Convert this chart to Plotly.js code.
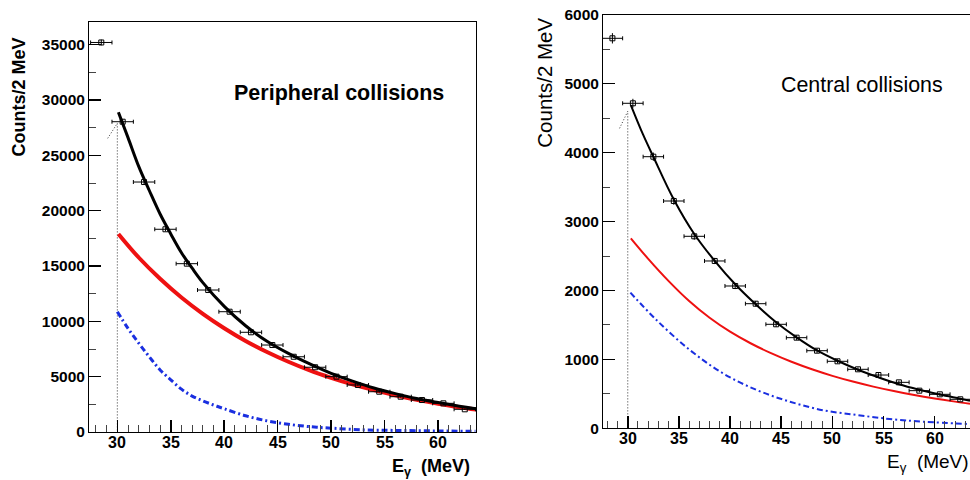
<!DOCTYPE html>
<html>
<head>
<meta charset="utf-8">
<script src="https://cdn.plot.ly/plotly-3.0.1.min.js"></script>
<style>
  html, body { margin: 0; padding: 0; background: #fff; }
  #chart { width: 970px; height: 480px; }
</style>
</head>
<body>
<div id="chart"></div>
<script>
// Photon energy bins (bin centres, MeV) and half bin width
const energy = [28.5, 30.5, 32.5, 34.5, 36.5, 38.5, 40.5, 42.5, 44.5, 46.5, 48.5, 50.5, 52.5, 54.5, 56.5, 58.5, 60.5, 62.5];
const binHalfWidth = [1, 1, 1, 1, 1, 1, 1, 1, 1, 1, 1, 1, 1, 1, 1, 1, 1, 1];
const energyTicks = [30, 35, 40, 45, 50, 55, 60];

// Peripheral collisions: measured spectrum
const periphCounts = [35200, 28040, 22590, 18320, 15210, 12830, 10870, 9010, 7860, 6800, 5850, 5000, 4250, 3640, 3190, 2890, 2590, 2050];
const periphErr = [260, 230, 200, 180, 160, 140, 130, 120, 110, 100, 95, 90, 85, 80, 75, 70, 65, 60];

// Peripheral collisions: total fit, first and second components
const periphFitE = [30.1, 31, 32, 33, 34, 35, 36, 37, 38, 40, 42, 44, 46, 48, 50, 52, 54, 56, 58, 60, 62, 63.55];
const periphFit = [28900, 26600, 24000, 21800, 19700, 17900, 16200, 14800, 13500, 11350, 9600, 8200, 7100, 6150, 5300, 4600, 3980, 3470, 3020, 2660, 2330, 2100];
const periphRedE = [30.1, 32, 34, 36, 38, 40, 42, 44, 46, 48, 50, 52, 54, 56, 58, 60, 62, 63.55];
const periphRed = [17900, 15770, 13850, 12160, 10680, 9380, 8230, 7230, 6350, 5570, 4900, 4300, 3780, 3320, 2910, 2560, 2240, 2030];
const periphBlueE = [30, 31, 32, 33, 34, 35, 36, 37, 38, 39, 40, 42, 44, 46, 48, 50, 53, 56, 60, 63.5];
const periphBlue = [10870, 9360, 8030, 6785, 5610, 4710, 3870, 3245, 2815, 2440, 2100, 1465, 1007, 697, 482, 347, 194, 143, 93, 60];
// Extrapolation of the fit below threshold
const periphDotE = [29.1, 29.55, 30.0, 30.0];
const periphDot = [26540, 27250, 27900, 0];

// Central collisions: measured spectrum
const centralCounts = [5659, 4716, 3941, 3298, 2786, 2428, 2065, 1808, 1509, 1315, 1126, 972, 856, 773, 667, 546, 493, 421];
const centralErr = [75, 65, 60, 55, 50, 45, 45, 40, 38, 35, 33, 30, 28, 27, 25, 24, 22, 20];

// Central collisions: total fit, first and second components
const centralFitE = [30.3, 31.5, 32.5, 34.5, 36.5, 38.5, 40.5, 42.5, 44.5, 46.5, 48.5, 50.5, 52.5, 54.5, 56.5, 58.5, 60.5, 62.5, 63.45];
const centralFit = [4690, 4260, 3940, 3320, 2820, 2430, 2090, 1800, 1540, 1320, 1130, 980, 850, 740, 640, 560, 490, 430, 400];
const centralRedE = [30.3, 32, 34, 36, 38, 40, 42, 44, 46, 48, 50, 52, 54, 56, 58, 60, 62, 63.45];
const centralRed = [2757, 2459, 2136, 1847, 1604, 1402, 1234, 1090, 965, 856, 761, 678, 605, 541, 484, 433, 387, 357];
const centralBlueE = [30.26, 32.8, 36.07, 39.3, 42.6, 45.85, 49.1, 52.4, 55.6, 58.9, 63.45];
const centralBlue = [1968, 1572, 1136, 798, 556, 386, 262, 193, 135, 96, 62];
const centralDotE = [29.2, 29.6, 30.0, 30.0];
const centralDot = [4353, 4480, 4600, 0];

const W = 970, H = 480;
const px = v => v / W;
const py = v => 1 - v / H;

const FONT = 'Liberation Sans, Arial, sans-serif';
const RED = '#ee1111';
const BLUE = '#1a2fe0';
const DASHDOT = '6px,3px,2px,3px';

function dataTrace(y, err, xa, ya) {
  return {
    x: energy, y: y, xaxis: xa, yaxis: ya, type: 'scatter', mode: 'markers',
    marker: { symbol: 'square-open', size: 5, color: '#000', line: { width: 1, color: '#000' } },
    error_x: { type: 'data', array: binHalfWidth, color: '#000', thickness: 1, width: 2 },
    error_y: { type: 'data', array: err, color: '#000', thickness: 1, width: 0 },
    cliponaxis: false
  };
}
function curve(x, y, xa, ya, color, width, dash) {
  return {
    x: x, y: y, xaxis: xa, yaxis: ya, type: 'scatter', mode: 'lines',
    line: { color: color, width: width, dash: dash || 'solid', shape: 'spline', smoothing: 1 }
  };
}
function dotted(x, y, xa, ya) {
  return {
    x: x, y: y, xaxis: xa, yaxis: ya, type: 'scatter', mode: 'lines',
    line: { color: '#333', width: 1, dash: '1px,2px' }
  };
}

const traces = [
  dotted(periphDotE, periphDot, 'x', 'y'),
  curve(periphBlueE, periphBlue, 'x', 'y', BLUE, 3, DASHDOT),
  curve(periphRedE, periphRed, 'x', 'y', RED, 4),
  curve(periphFitE, periphFit, 'x', 'y', '#000', 3),
  dataTrace(periphCounts, periphErr, 'x', 'y'),

  dotted(centralDotE, centralDot, 'x2', 'y2'),
  curve(centralBlueE, centralBlue, 'x2', 'y2', BLUE, 2, DASHDOT),
  curve(centralRedE, centralRed, 'x2', 'y2', RED, 2),
  curve(centralFitE, centralFit, 'x2', 'y2', '#000', 2),
  dataTrace(centralCounts, centralErr, 'x2', 'y2')
];

const tickFont = { family: FONT, size: 15.5, color: '#000', weight: 'bold' };

function xAxis(domain, range, anchor) {
  return {
    domain: domain, range: range, anchor: anchor,
    showgrid: false, zeroline: false,
    showline: true, linecolor: '#000', linewidth: 1, mirror: true,
    tickvals: energyTicks, ticks: 'inside', ticklen: 12, tickwidth: 1.5, tickcolor: '#000',
    minor: { dtick: 1, tick0: 0, ticks: 'inside', ticklen: 7, tickwidth: 1, tickcolor: '#444', showgrid: false },
    showticklabels: false
  };
}
function yAxis(domain, range, anchor, dtick, mirror) {
  return {
    domain: domain, range: range, anchor: anchor,
    showgrid: false, zeroline: false,
    showline: true, linecolor: '#000', linewidth: 1, mirror: mirror,
    tick0: 0, dtick: dtick, ticks: 'inside', ticklen: 12, tickwidth: 1.5, tickcolor: '#000',
    minor: { dtick: dtick / 2, tick0: 0, ticks: 'inside', ticklen: 7, tickwidth: 1, tickcolor: '#444', showgrid: false },
    tickfont: tickFont, tickformat: 'd'
  };
}

// Energy tick labels, set a little closer to the axis than the default
function energyLabels(xref, yPix) {
  return energyTicks.map(v => ({
    text: String(v), xref: xref, yref: 'paper', x: v, y: py(yPix),
    showarrow: false, xanchor: 'center', yanchor: 'middle',
    font: { family: FONT, size: 16, color: '#000', weight: 'bold' }
  }));
}

const annotations = [
  { text: 'Counts/2 MeV', xref: 'paper', yref: 'paper', x: px(18.5), y: py(97), textangle: -90,
    showarrow: false, xanchor: 'center', yanchor: 'middle',
    font: { family: FONT, size: 18, color: '#000', weight: 'bold' } },
  { text: 'Peripheral collisions', xref: 'paper', yref: 'paper', x: px(232), y: py(93),
    showarrow: false, xanchor: 'left', yanchor: 'middle',
    font: { family: FONT, size: 21.5, color: '#000', weight: 'bold' } },
  { text: 'E<sub>γ</sub>  (MeV)', xref: 'paper', yref: 'paper', x: px(472), y: py(467),
    showarrow: false, xanchor: 'right', yanchor: 'middle',
    font: { family: FONT, size: 18, color: '#000', weight: 'bold' } },

  { text: 'Counts/2 MeV', xref: 'paper', yref: 'paper', x: px(544.7), y: py(83), textangle: -90,
    showarrow: false, xanchor: 'center', yanchor: 'middle',
    font: { family: FONT, size: 20.5, color: '#000' } },
  { text: 'Central collisions', xref: 'paper', yref: 'paper', x: px(779), y: py(85),
    showarrow: false, xanchor: 'left', yanchor: 'middle',
    font: { family: FONT, size: 21.4, color: '#000' } },
  { text: 'E<sub>γ</sub>  (MeV)', xref: 'paper', yref: 'paper', x: px(885), y: py(463),
    showarrow: false, xanchor: 'left', yanchor: 'middle',
    font: { family: FONT, size: 19, color: '#000' } }
].concat(energyLabels('x', 442.5), energyLabels('x2', 438.5));

const layout = {
  width: W, height: H,
  margin: { l: 0, r: 0, t: 0, b: 0 },
  paper_bgcolor: '#fff', plot_bgcolor: '#fff',
  showlegend: false,
  xaxis: xAxis([px(89), px(476)], [27.35, 63.55], 'y'),
  yaxis: yAxis([py(432), py(22)], [0, 37050], 'x', 5000, true),
  xaxis2: xAxis([px(603), 1], [27.58, 63.45], 'y2'),
  yaxis2: yAxis([py(428.3), py(14.8)], [0, 6000], 'x2', 1000, false),
  annotations: annotations
};

Plotly.newPlot('chart', traces, layout, { staticPlot: true, displayModeBar: false });
</script>
</body>
</html>
